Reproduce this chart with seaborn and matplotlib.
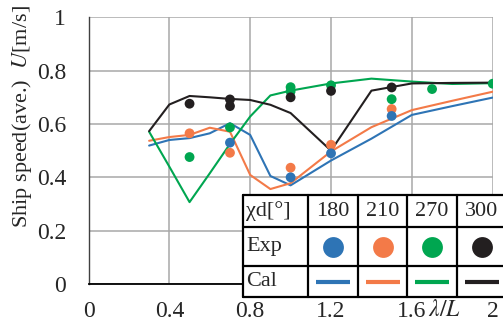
import pandas as pd
import matplotlib
matplotlib.use('Agg')
import matplotlib.pyplot as plt
import seaborn as sns

# wave length ratio for calculated curves
x_cal = [0.3, 0.4, 0.5, 0.6, 0.7, 0.8, 0.9, 1.0, 1.2, 1.4, 1.6, 1.8, 2.0]
cal_180 = [0.519, 0.540, 0.547, 0.565, 0.603, 0.559, 0.405, 0.370, 0.463, 0.545, 0.634, 0.667, 0.699]
cal_210 = [0.537, 0.551, 0.559, 0.586, 0.571, 0.409, 0.356, 0.378, 0.497, 0.588, 0.652, 0.687, 0.721]
cal_270 = [0.571, 0.440, 0.307, 0.415, 0.525, 0.628, 0.707, 0.725, 0.752, 0.770, 0.759, 0.750, 0.753]
cal_300 = [0.573, 0.673, 0.705, 0.700, 0.694, 0.690, 0.672, 0.641, 0.500, 0.725, 0.752, 0.754, 0.755]

# experiments
x_exp_180 = [0.7, 1.0, 1.2, 1.5]
exp_180 = [0.530, 0.400, 0.490, 0.630]
x_exp_210 = [0.5, 0.7, 1.0, 1.2, 1.5]
exp_210 = [0.565, 0.492, 0.436, 0.522, 0.656]
x_exp_270 = [0.5, 0.7, 1.0, 1.0, 1.2, 1.5, 1.7, 2.0]
exp_270 = [0.476, 0.587, 0.722, 0.738, 0.745, 0.693, 0.731, 0.751]
x_exp_300 = [0.5, 0.7, 0.7, 1.0, 1.2, 1.5]
exp_300 = [0.676, 0.667, 0.692, 0.700, 0.724, 0.737]

angles = ['180', '210', '270', '300']
colors = {'180': '#2e74b5', '210': '#f37a48', '270': '#00a650', '300': '#231f20'}
xtick_vals = [0, 0.4, 0.8, 1.2, 1.6, 2.0]
xtick_labels = ['0', '0.4', '0.8', '1.2', '1.6', '2']
ytick_vals = [0, 0.2, 0.4, 0.6, 0.8, 1.0]
ytick_labels = ['0', '0.2', '0.4', '0.6', '0.8', '1']

cal = pd.concat([
    pd.DataFrame({'lam': x_cal, 'U': v, 'chi': a})
    for a, v in zip(angles, [cal_180, cal_210, cal_270, cal_300])
])
# drawing order of the dots
exp = pd.concat([
    pd.DataFrame({'lam': x_exp_270, 'U': exp_270, 'chi': '270'}),
    pd.DataFrame({'lam': x_exp_300, 'U': exp_300, 'chi': '300'}),
    pd.DataFrame({'lam': x_exp_210, 'U': exp_210, 'chi': '210'}),
    pd.DataFrame({'lam': x_exp_180, 'U': exp_180, 'chi': '180'}),
])

sns.set_style('white')
plt.rcParams['font.family'] = ['Liberation Serif', 'DejaVu Serif']
plt.rcParams['mathtext.fontset'] = 'stix'

fig = plt.figure(figsize=(5.03, 3.24), dpi=100)
ax = fig.add_axes([88.5 / 503, 1 - 284 / 324, 404.2 / 503, 266.7 / 324])

sns.lineplot(data=cal, x='lam', y='U', hue='chi', hue_order=angles, palette=colors,
             linewidth=1.5, legend=False, ax=ax, sort=True, estimator=None)
sns.scatterplot(data=exp, x='lam', y='U', hue='chi', palette=colors, s=50,
                linewidth=0, legend=False, ax=ax, zorder=5)

ax.set_xlim(0, 2)
ax.set_ylim(0, 1)
ax.set_xticks(xtick_vals)
ax.set_xticklabels(xtick_labels)
ax.set_yticks(ytick_vals)
ax.set_yticklabels(ytick_labels)
ax.tick_params(length=0, labelsize=17)
ax.tick_params(axis='x', pad=12)
ax.tick_params(axis='y', pad=16)
ax.grid(True, color='#a8a8a8', linewidth=1.1)
ax.set_xlabel('')
ax.set_ylabel('')
for s in ['top', 'right']:
    ax.spines[s].set_visible(False)
ax.spines['left'].set_color('#404040')
ax.spines['left'].set_linewidth(1.0)
ax.spines['bottom'].set_color('black')
ax.spines['bottom'].set_linewidth(1.3)

fig.text(428 / 503, 1 - 311 / 324, r'$\lambda/L$', fontsize=17, ha='left', va='center')
fig.text(22 / 503, 1 - 117 / 324, r'Ship speed(ave.)  $U$[m/s]', fontsize=16,
         rotation=90, ha='center', va='center')

# table legend
tb = fig.add_axes([243 / 503, 1 - 297.3 / 324, 264 / 503, 102.3 / 324], zorder=10)
tb.set_xlim(0, 264)
tb.set_ylim(102.3, 0)
tb.set_xticks([])
tb.set_yticks([])
tb.set_facecolor('white')
for s in tb.spines.values():
    s.set_visible(False)
col_x = [0, 65, 115, 164, 214, 264]
row_y = [0, 32.3, 71, 102.3]
for cx in col_x:
    tb.plot([cx, cx], [0, 102.3], color='black', lw=1.6, clip_on=False)
for ry in row_y:
    tb.plot([0, 264], [ry, ry], color='black', lw=1.6, clip_on=False)
tb.text(3, 16, 'χd[°]', fontsize=16, ha='left', va='center')
tb.text(3, 51.5, 'Exp', fontsize=16, ha='left', va='center')
tb.text(3, 87, 'Cal', fontsize=16, ha='left', va='center')
for i, a in enumerate(angles):
    c = (col_x[i + 1] + col_x[i + 2]) / 2
    tb.text(c, 16, a, fontsize=16, ha='center', va='center')
    tb.plot([c], [51.5], 'o', color=colors[a], markersize=15, markeredgewidth=0)
    tb.plot([c - 17, c + 17], [87, 87], color=colors[a], lw=3, solid_capstyle='butt')

fig.savefig('out.png', dpi=100)
